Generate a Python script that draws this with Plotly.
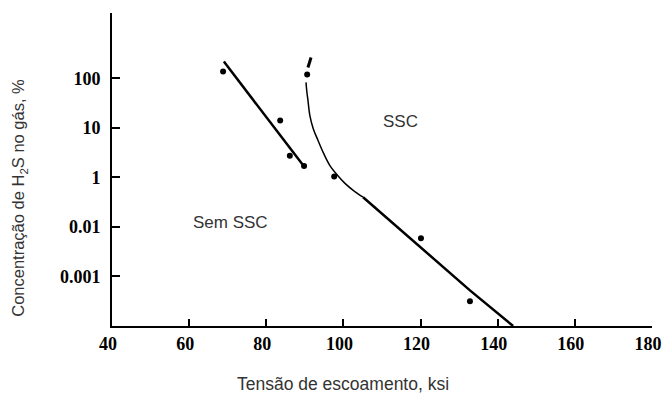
import plotly.graph_objects as go

# Y axis uses equally spaced label positions (as in the original figure)
y_tick_pos = [1, 2, 3, 4, 5]
y_tick_labels = ["0.001", "0.01", "1", "10", "100"]
x_ticks = [40, 60, 80, 100, 120, 140, 160, 180]

# Data points (yield strength ksi, concentration on label-position scale)
pts_x = [68.8, 83.6, 86.1, 89.8, 90.6, 97.6, 120.1, 132.8]
pts_y = [5.14, 4.15, 3.44, 3.23, 5.08, 3.02, 1.77, 0.50]

# Left boundary line (no SSC)
left_x = [69.0, 90.0]
left_y = [5.34, 3.20]

# Right boundary curve (SSC)
curve_x = [90.3, 90.5, 90.8, 91.3, 92.2, 93.4, 94.9, 96.5, 98.4, 100.4, 102.7, 105.1]
curve_y = [4.92, 4.74, 4.56, 4.25, 3.98, 3.75, 3.48, 3.24, 3.05, 2.88, 2.73, 2.60]
straight_x = [105.1, 132.8, 144.0]
straight_y = [2.60, 0.72, 0.0]
dash_x = [90.8, 91.6]
dash_y = [5.22, 5.42]

fig = go.Figure()
fig.add_trace(go.Scatter(x=left_x, y=left_y, mode="lines",
                         line=dict(color="black", width=2.5), showlegend=False))
fig.add_trace(go.Scatter(x=curve_x, y=curve_y, mode="lines",
                         line=dict(color="black", width=1.5, shape="spline"), showlegend=False))
fig.add_trace(go.Scatter(x=straight_x, y=straight_y, mode="lines",
                         line=dict(color="black", width=2.5), showlegend=False))
fig.add_trace(go.Scatter(x=dash_x, y=dash_y, mode="lines",
                         line=dict(color="black", width=3), showlegend=False))
fig.add_trace(go.Scatter(x=pts_x, y=pts_y, mode="markers",
                         marker=dict(color="black", size=6), showlegend=False))

tickfont = dict(family="Liberation Serif", size=18, color="black", weight="bold")

fig.update_layout(
    width=666, height=396,
    margin=dict(l=112, r=14, t=13, b=70),
    paper_bgcolor="white", plot_bgcolor="white",
    xaxis=dict(range=[40, 180], tickvals=x_ticks, ticktext=[str(v) for v in x_ticks],
               showline=True, linecolor="black", linewidth=2, showgrid=False, zeroline=False,
               ticks="inside", ticklen=7, tickwidth=1.5, tickcolor="black",
               tickfont=tickfont, ticklabelstandoff=0, ticklabelshift=-4,
               ticklabeloverflow="allow", automargin=False),
    yaxis=dict(range=[0, 6.32], tickvals=y_tick_pos, ticktext=y_tick_labels,
               showline=True, linecolor="black", linewidth=2, showgrid=False, zeroline=False,
               ticks="inside", ticklen=8, tickwidth=1.5, tickcolor="black",
               tickfont=tickfont, ticklabelstandoff=6, automargin=False),
    annotations=[
        dict(text="SSC", x=114.9, y=4.13, xref="x", yref="y", showarrow=False,
             font=dict(family="Liberation Sans", size=17, color="#333")),
        dict(text="Sem SSC", x=70.6, y=2.09, xref="x", yref="y", showarrow=False,
             font=dict(family="Liberation Sans", size=17, color="#333")),
        dict(text="Tensão de escoamento, ksi", x=0.428, y=-0.185, xref="paper", yref="paper",
             showarrow=False, xanchor="center", yanchor="middle",
             font=dict(family="Liberation Sans", size=17.5, color="#333")),
        dict(text="Concentração de H<sub>2</sub>S no gás, %", x=-0.172, y=0.41,
             xref="paper", yref="paper", textangle=-90, showarrow=False,
             xanchor="center", yanchor="middle",
             font=dict(family="Liberation Sans", size=16.5, color="#333")),
    ],
)

# remove the browser's default 8px page margin so the figure fills the window exactly
fig.write_html("out.html", config={"displayModeBar": False},
               post_script="document.body.style.margin='0';")
